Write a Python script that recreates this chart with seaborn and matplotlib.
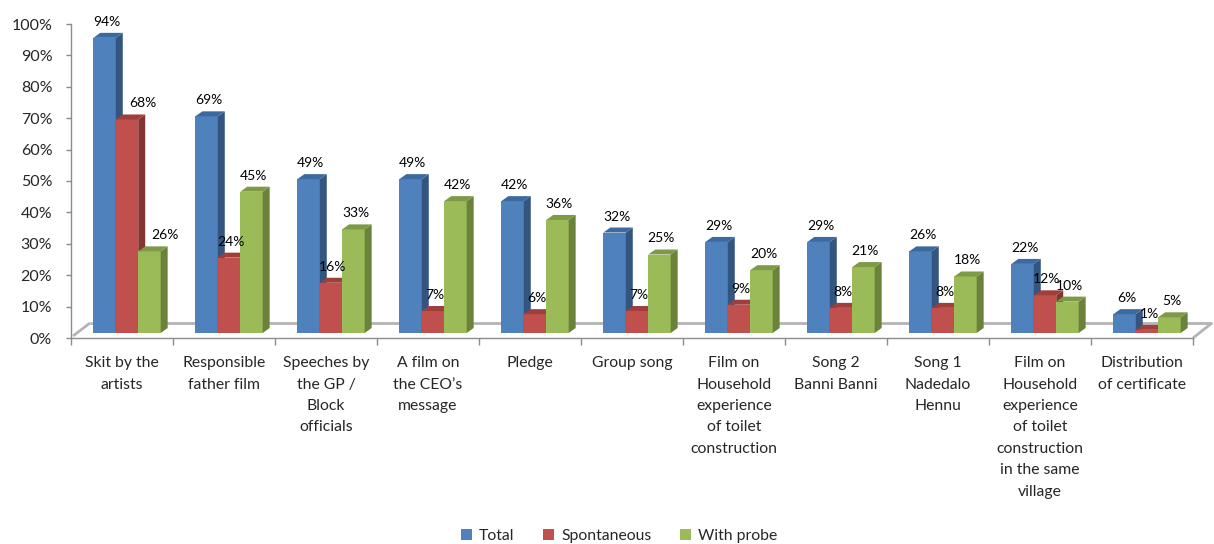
import matplotlib
matplotlib.use("Agg")
import matplotlib.pyplot as plt
import matplotlib.transforms as mtransforms
from matplotlib.patches import Polygon
from matplotlib.lines import Line2D
import pandas as pd
import seaborn as sns

categories = [
    "Skit by the\nartists",
    "Responsible\nfather film",
    "Speeches by\nthe GP /\nBlock\nofficials",
    "A film on\nthe CEO\u2019s\nmessage",
    "Pledge",
    "Group song",
    "Film on\nHousehold\nexperience\nof toilet\nconstruction",
    "Song 2\nBanni Banni",
    "Song 1\nNadedalo\nHennu",
    "Film on\nHousehold\nexperience\nof toilet\nconstruction\nin the same\nvillage",
    "Distribution\nof certificate",
]
series = ["Total", "Spontaneous", "With probe"]
total = [94, 69, 49, 49, 42, 32, 29, 29, 26, 22, 6]
spontaneous = [68, 24, 16, 7, 6, 7, 9, 8, 8, 12, 1]
with_probe = [26, 45, 33, 42, 36, 25, 20, 21, 18, 10, 5]
y_ticks = [0, 10, 20, 30, 40, 50, 60, 70, 80, 90, 100]

front_colors = ["#4F81BD", "#C0504D", "#9BBB59"]
side_colors = ["#335580", "#863432", "#6A8239"]
top_colors = ["#3D6A9E", "#9E3F3C", "#7E9A47"]

sns.set_style("white")
plt.rcParams["font.family"] = ["Lato", "DejaVu Sans"]

rows = []
for name, vals in zip(series, [total, spontaneous, with_probe]):
    for cat, v in zip(categories, vals):
        rows.append({"category": cat, "series": name, "value": v / 100})
df = pd.DataFrame(rows)

W, H, DPI = 1214, 544, 100
fig = plt.figure(figsize=(W / DPI, H / DPI), dpi=DPI)
ax = fig.add_axes([71 / W, 1 - 338 / H, (1193 - 71) / W, (338 - 24) / H])

sns.barplot(data=df, x="category", y="value", hue="series",
            order=categories, hue_order=series, palette=front_colors,
            width=0.66, dodge=True, saturation=1, errorbar=None,
            legend=False, ax=ax, edgecolor="none", linewidth=0)

ax.set_xlim(-0.5, len(categories) - 0.5)
ax.set_ylim(0, 1)

# 3D look: bars pushed slightly back/up, with side and top faces
shift = mtransforms.offset_copy(ax.transData, fig=fig, x=5, y=5, units="dots")
depth_px = (7, 5)
cat_px = (ax.transData.transform((1, 0))[0] - ax.transData.transform((0, 0))[0])
val_px = (ax.transData.transform((0, 1))[1] - ax.transData.transform((0, 0))[1])
ddx = depth_px[0] / cat_px
ddy = depth_px[1] / val_px

nudges = {(0, 1): 14, (0, 2): 14}

for si, cont in enumerate(ax.containers):
    for ci, bar in enumerate(cont.patches):
        bar.set_transform(shift)
        bar.set_zorder(si + 1)
        x0, w, h = bar.get_x(), bar.get_width(), bar.get_height()
        side = Polygon([(x0 + w, 0), (x0 + w + ddx, ddy), (x0 + w + ddx, h + ddy), (x0 + w, h)],
                       closed=True, facecolor=side_colors[si], edgecolor="none",
                       transform=shift, zorder=si + 1.1)
        top = Polygon([(x0, h), (x0 + w, h), (x0 + w + ddx, h + ddy), (x0 + ddx, h + ddy)],
                      closed=True, facecolor=top_colors[si], edgecolor="none",
                      transform=shift, zorder=si + 1.2)
        ax.add_patch(side)
        ax.add_patch(top)
        ax.annotate(f"{round(h * 100)}%", xy=(x0 + w / 2, h), xycoords="data",
                    xytext=(5 + 2 + nudges.get((ci, si), 0), 5 + 16),
                    textcoords="offset pixels", ha="center", va="center",
                    fontsize=10, color="#000000", zorder=10, annotation_clip=False)

# floor of the 3D plot area, kept behind the bars
o = ax.transAxes.transform((0, 0))
e = ax.transAxes.transform((1, 0))
floor_kw = dict(color="#B4B4B4", lw=2.0, transform=mtransforms.IdentityTransform(),
                zorder=0.5, solid_capstyle="butt", clip_on=False)
ax.add_line(Line2D([o[0] + 2, o[0] + 19], [o[1] + 2, o[1] + 15], **floor_kw))
ax.add_line(Line2D([o[0] + 19, e[0] + 19], [o[1] + 15, e[1] + 15], **floor_kw))
ax.add_line(Line2D([e[0], e[0] + 19], [e[1], e[1] + 15], **floor_kw))

# axes styling
for s in ["top", "right"]:
    ax.spines[s].set_visible(False)
for s in ["left", "bottom"]:
    ax.spines[s].set_color("#8C8C8C")
    ax.spines[s].set_linewidth(1.0)

ax.set_yticks([t / 100 for t in y_ticks])
ax.set_yticklabels([f"{t}%" for t in y_ticks], fontsize=11.5)
ax.tick_params(axis="y", length=3.5, width=1, color="#8C8C8C", pad=10, left=True)

ax.set_xticks(range(len(categories)))
ax.set_xticklabels(categories, fontsize=11.3, linespacing=1.68, va="top")
ax.set_xticks([i - 0.5 for i in range(len(categories) + 1)], minor=True)
ax.tick_params(axis="x", which="major", length=0, pad=13)
ax.tick_params(axis="x", which="minor", length=5, width=1, color="#8C8C8C", bottom=True)
ax.set_xlabel("")
ax.set_ylabel("")
ax.grid(False)

handles = [plt.Rectangle((0, 0), 1, 1, facecolor=c, edgecolor="none") for c in front_colors]
fig.legend(handles, series, loc="center", bbox_to_anchor=(619 / W, 1 - 536 / H),
           ncol=3, frameon=False, fontsize=11.3, handlelength=0.7, handleheight=0.7,
           handletextpad=0.45, columnspacing=1.8)

fig.savefig("out.png", dpi=DPI)
